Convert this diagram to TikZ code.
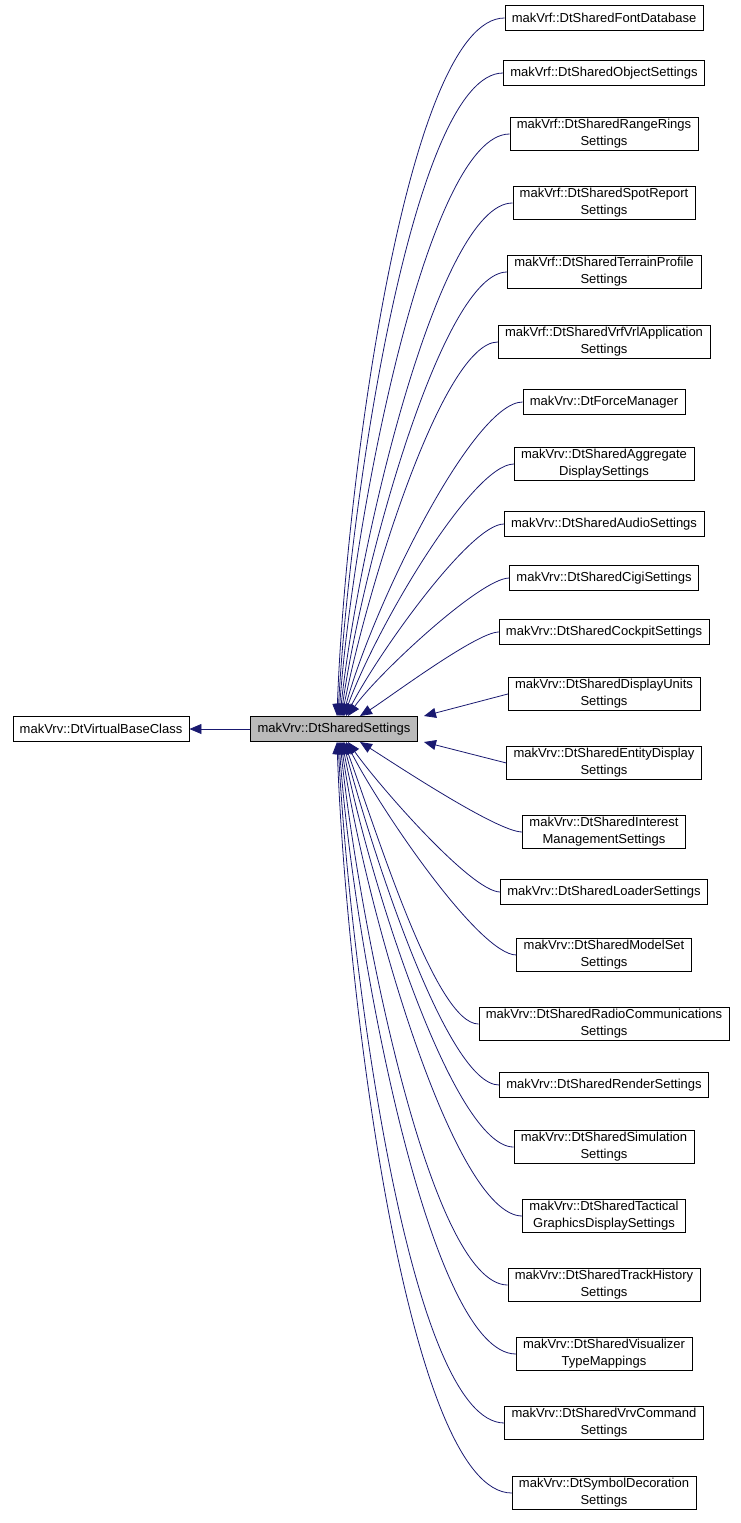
\documentclass[tikz,border=0pt]{standalone}
\usepackage{fontspec}
\setmainfont{Liberation Sans}
\usetikzlibrary{arrows.meta}
\definecolor{edgeblue}{HTML}{191970}
\begin{document}
\begin{tikzpicture}[x=1pt,y=1pt,
  cls/.style={draw=black, fill=white, inner xsep=7pt, inner ysep=2pt, minimum height=25pt,
    align=center, font=\fontsize{13}{17}\selectfont},
  hubcls/.style={cls, fill=black!27},
  inherit/.style={draw=edgeblue, line width=0.8pt, -{Triangle[length=12pt,width=10pt]}, shorten >=0pt}]
\useasboundingbox (0,0) rectangle (741,-1523);
% base and hub
\node[cls] (base) at (101,-729) {makVrv::DtVirtualBaseClass};
\node[hubcls] (hub) at (334,-729) {makVrv::DtSharedSettings};
\draw[inherit] (hub) -- (base);
% derived classes above the hub
\foreach \n/\y/\txt/\tx/\ang/\lo in {
  n1/18/{makVrf::DtSharedFontDatabase}/337/88/0.8,
  n2/73/{makVrf::DtSharedObjectSettings}/338/87/0.8,
  n3/134/{makVrf::DtSharedRangeRings\\Settings}/339/86/0.8,
  n4/203/{makVrf::DtSharedSpotReport\\Settings}/340/84/0.8,
  n5/272/{makVrf::DtSharedTerrainProfile\\Settings}/341/82/0.8,
  n6/342/{makVrf::DtSharedVrfVrlApplication\\Settings}/342/79/0.8,
  n7/402/{makVrv::DtForceManager}/343/75/0.8,
  n8/464/{makVrv::DtSharedAggregate\\DisplaySettings}/344/70/0.8,
  n9/524/{makVrv::DtSharedAudioSettings}/346/63/0.7,
  n10/578/{makVrv::DtSharedCigiSettings}/348/55/0.6,
  n11/632/{makVrv::DtSharedCockpitSettings}/360/32/0.5}{
  \node[cls] (\n) at (604,-\y) {\txt};
  \draw[inherit] (\n.west) to[out=180, in=\ang, out looseness=0.35, in looseness=\lo] (\tx,-716);
}
% derived classes beside the hub
\node[cls] (n12) at (604,-694) {makVrv::DtSharedDisplayUnits\\Settings};
\node[cls] (n13) at (604,-763) {makVrv::DtSharedEntityDisplay\\Settings};
\draw[inherit] (n12.west) -- (424,-716);
\draw[inherit] (n13.west) -- (424,-742);
% derived classes below the hub
\foreach \n/\y/\txt/\tx/\ang/\lo in {
  n14/832/{makVrv::DtSharedInterest\\ManagementSettings}/360/-32/0.5,
  n15/892/{makVrv::DtSharedLoaderSettings}/348/-55/0.6,
  n16/955/{makVrv::DtSharedModelSet\\Settings}/346/-63/0.7,
  n17/1024/{makVrv::DtSharedRadioCommunications\\Settings}/344/-70/0.8,
  n18/1085/{makVrv::DtSharedRenderSettings}/343/-75/0.8,
  n19/1147/{makVrv::DtSharedSimulation\\Settings}/342/-79/0.8,
  n20/1216/{makVrv::DtSharedTactical\\GraphicsDisplaySettings}/341/-82/0.8,
  n21/1285/{makVrv::DtSharedTrackHistory\\Settings}/340/-84/0.8,
  n22/1354/{makVrv::DtSharedVisualizer\\TypeMappings}/339/-86/0.8,
  n23/1423/{makVrv::DtSharedVrvCommand\\Settings}/338/-87/0.8,
  n24/1493/{makVrv::DtSymbolDecoration\\Settings}/337/-88/0.8}{
  \node[cls] (\n) at (604,-\y) {\txt};
  \draw[inherit] (\n.west) to[out=180, in=\ang, out looseness=0.35, in looseness=\lo] (\tx,-742);
}
\end{tikzpicture}
\end{document}
